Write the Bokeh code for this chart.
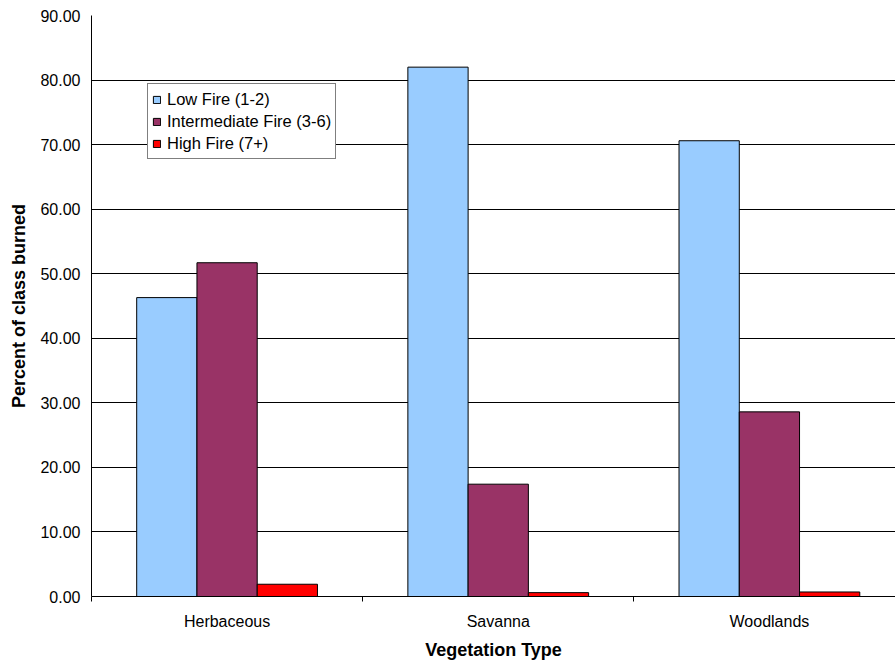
from bokeh.plotting import figure
from bokeh.models import Range1d, FixedTicker, NumeralTickFormatter, ColumnDataSource
from bokeh.transform import dodge
from bokeh.embed import file_html
from bokeh.resources import INLINE

# Share of each vegetation class burned, by fire frequency
categories = ["Herbaceous", "Savanna", "Woodlands"]
low_fire = [46.3, 82.0, 70.6]
intermediate_fire = [51.7, 17.4, 28.6]
high_fire = [1.9, 0.6, 0.7]
series_names = ["Low Fire (1-2)", "Intermediate Fire (3-6)", "High Fire (7+)"]
y_ticks = [0, 10, 20, 30, 40, 50, 60, 70, 80, 90]

FONT = "Liberation Sans"
colors = ["#99CCFF", "#993366", "#FF0000"]

centers = [i + 0.5 for i in range(len(categories))]
src = ColumnDataSource(dict(x=centers, low=low_fire, mid=intermediate_fire, high=high_fire))

p = figure(width=895, height=662, output_backend="svg", toolbar_location=None,
           x_range=Range1d(0, 2.965), y_range=Range1d(0, 90),
           min_border_left=91, min_border_right=0, min_border_top=15, min_border_bottom=65)
p.outline_line_color = None
p.background_fill_color = "white"
p.border_fill_color = "white"

bar_w = 0.2222
for col, off, color, name in zip(["low", "mid", "high"], [-bar_w, 0, bar_w], colors, series_names):
    p.vbar(x=dodge("x", off, range=p.x_range), top=col, width=bar_w, bottom=0, source=src,
           fill_color=color, line_color="black", line_width=1, legend_label=name)

# y axis
p.yaxis.ticker = FixedTicker(ticks=y_ticks)
p.yaxis.formatter = NumeralTickFormatter(format="0.00")
p.yaxis.axis_label = "Percent of class burned"
p.yaxis.major_tick_out = 4
p.yaxis.major_tick_in = 0
p.yaxis.minor_tick_line_color = None
p.yaxis.major_label_standoff = 7
p.yaxis.axis_label_standoff = 8

# x axis: labels at category centres, ticks between categories
p.xaxis.ticker = FixedTicker(ticks=centers, minor_ticks=[0, 1, 2, 3])
p.xaxis.major_label_overrides = {c: name for c, name in zip(centers, categories)}
p.xaxis.major_tick_out = 0
p.xaxis.major_tick_in = 0
p.xaxis.minor_tick_out = 5
p.xaxis.minor_tick_in = 0
p.xaxis.minor_tick_line_color = "black"
p.xaxis.major_label_standoff = 11
p.xaxis.axis_label = "Vegetation Type"
p.xaxis.axis_label_standoff = 7

for ax in (p.xaxis, p.yaxis):
    ax.axis_line_color = "black"
    ax.axis_line_width = 1
    ax.major_tick_line_color = "black" if ax is p.yaxis else None
    ax.major_label_text_font = FONT
    ax.major_label_text_font_size = "16px"
    ax.major_label_text_color = "black"
    ax.axis_label_text_font = FONT
    ax.axis_label_text_font_size = "18px"
    ax.axis_label_text_font_style = "bold"
    ax.axis_label_text_color = "black"

p.xgrid.grid_line_color = None
p.ygrid.grid_line_color = "black"
p.ygrid.grid_line_width = 1

# legend
lg = p.legend[0]
lg.location = (56, 437)
lg.border_line_color = "black"
lg.border_line_width = 1
lg.background_fill_color = "white"
lg.background_fill_alpha = 1
lg.padding = 4
lg.margin = 0
lg.spacing = 0
lg.glyph_width = 9
lg.glyph_height = 9
lg.label_height = 22
lg.label_standoff = 6
lg.label_text_font = FONT
lg.label_text_font_size = "16.5px"
lg.label_text_color = "black"

open("out.html", "w").write(file_html(p, INLINE))
